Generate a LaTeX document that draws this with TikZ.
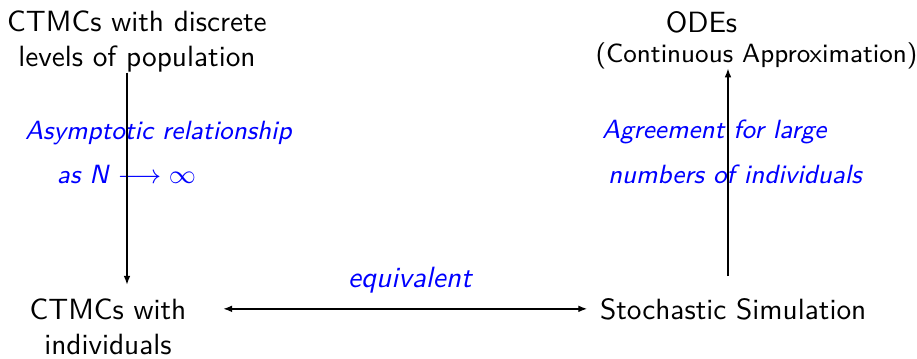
\documentclass[tikz,border=0pt]{standalone}
\usetikzlibrary{arrows.meta}
\begin{document}
\begin{tikzpicture}[x=0.3413pt,y=-0.3413pt,
  every node/.style={font=\sffamily, inner sep=0pt, outer sep=0pt},
  box/.style={align=center},
  lbl/.style={text=blue, font=\sffamily\itshape\small, anchor=base west},
  tip/.tip={Latex[length=3pt,width=2.3pt]},
  conn/.style={-tip, line width=0.45pt}]
\useasboundingbox (0,0) rectangle (917,358);
% main texts
\node[box, anchor=north] (tl) at (137,11) {CTMCs with discrete\\levels of population};
\node[anchor=base] (tr) at (701.5,32) {ODEs};
\node[anchor=base, font=\sffamily\small] (tr2) at (756.5,62) {(Continuous Approximation)};
\node[box, anchor=north] (bl) at (108,298.7) {CTMCs with\\individuals};
\node[anchor=base west] (br) at (600,319) {Stochastic Simulation};
% labels
\node[lbl] (l1) at (25,139) {Asymptotic relationship};
\node[lbl] (l2) at (57,183) {as N $\longrightarrow\infty$};
\node[lbl] (r1) at (602,138) {Agreement for large};
\node[lbl] (r2) at (608,183) {numbers of individuals};
\node[lbl, font=\sffamily\itshape] (eq) at (348,287) {equivalent};
% connectors
\coordinate (lx) at (127,0);
\coordinate (rx) at (728,0);
\draw[conn, shorten >=4.8pt] (tl.south -| lx) -- (bl.north -| lx);
\draw[conn, shorten <=7.5pt] (br.north -| rx) -- (tr2.south -| rx);
\draw[line width=0.45pt, tip-tip, shorten <=12.6pt, shorten >=4.4pt] (br.west -| bl.east) -- (br.west);
\end{tikzpicture}
\end{document}
